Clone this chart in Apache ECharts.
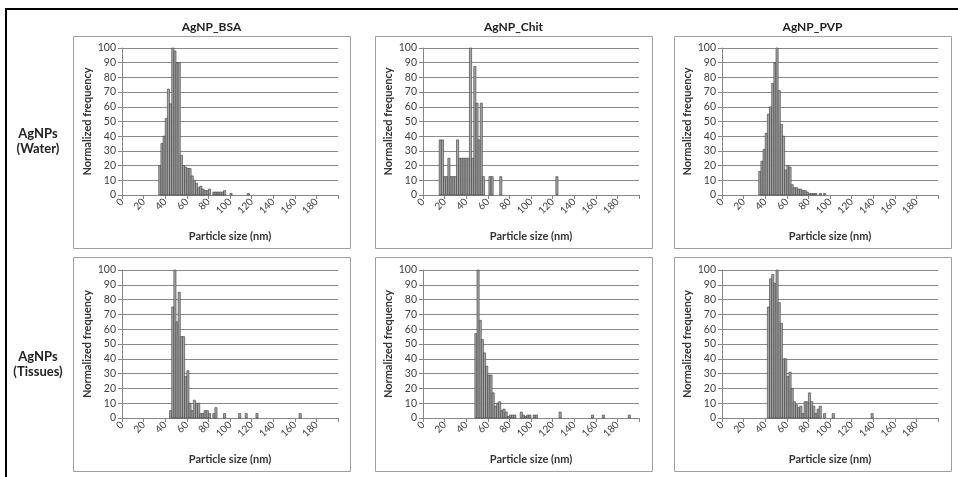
<!DOCTYPE html>
<html>
<head>
<meta charset="utf-8">
<script src="https://cdn.jsdelivr.net/npm/echarts@6/dist/echarts.min.js"></script>
<style>
  html, body { margin: 0; padding: 0; background: #fff; }
  #chart { width: 958px; height: 477px; }
</style>
</head>
<body>
<div id="chart"></div>
<script>
// === data: bin start (nm, 2 nm bins) and normalized frequency ===
const colTitles = ['AgNP_BSA', 'AgNP_Chit', 'AgNP_PVP']
const rowTitles = [['AgNPs', '(Water)'], ['AgNPs', '(Tissues)']]
const xTicks = [0, 20, 40, 60, 80, 100, 120, 140, 160, 180]

const bsaWaterSize = [34, 36, 38, 40, 42, 44, 46, 48, 50, 52, 54, 56, 58, 60, 62, 64, 66, 68, 70, 72, 74, 76, 78, 80, 84, 86, 88, 90, 92, 94, 100, 116]
const bsaWaterFreq = [20, 35, 40, 52, 72, 62, 100, 98, 90, 90, 27, 20, 19, 18, 18, 13, 10, 8, 5, 6, 4, 3, 3, 4, 2, 2, 2, 2, 2, 3, 1, 1]

const chitWaterSize = [15, 17, 19, 21, 23, 25, 27, 29, 31, 33, 35, 37, 39, 41, 43, 45, 47, 49, 51, 53, 55, 61, 63, 71, 123]
const chitWaterFreq = [37.5, 37.5, 12.5, 12.5, 25, 12.5, 12.5, 12.5, 37.5, 25, 25, 25, 25, 25, 100, 25, 87.5, 62.5, 37.5, 62.5, 12.5, 12.5, 12.5, 12.5, 12.5]

const pvpWaterSize = [34, 36, 38, 40, 42, 44, 46, 48, 50, 52, 54, 56, 58, 60, 62, 64, 66, 68, 70, 72, 74, 76, 78, 80, 82, 84, 86, 90, 94]
const pvpWaterFreq = [16, 23, 31, 42, 55, 60, 76, 90, 100, 71, 48, 40, 17, 20, 19, 7, 5, 5, 4, 4, 3, 3, 2, 1, 1, 1, 1, 1, 1]

const bsaTissueSize = [44, 46, 48, 50, 52, 54, 56, 58, 60, 62, 64, 66, 68, 70, 72, 74, 76, 78, 80, 84, 86, 94, 108, 114, 124, 164]
const bsaTissueFreq = [5, 75, 100, 65, 85, 55, 55, 28, 32, 10, 5, 12, 10, 10, 3, 3, 5, 5, 3, 3, 7, 3, 3, 3, 3, 3]

const chitTissueSize = [48, 50, 52, 54, 56, 58, 60, 62, 64, 66, 68, 70, 72, 74, 76, 78, 80, 82, 84, 90, 92, 94, 96, 98, 102, 104, 126, 156, 166, 190]
const chitTissueFreq = [57, 100, 66, 53, 44, 35, 29, 29, 17, 8, 10, 11, 5, 6, 4, 1, 2, 2, 2, 4, 2, 1, 2, 2, 2, 2, 4, 2, 2, 2]

const pvpTissueSize = [42, 44, 46, 48, 50, 52, 54, 56, 58, 60, 62, 64, 66, 68, 70, 72, 74, 76, 78, 80, 82, 84, 86, 88, 90, 94, 102, 138]
const pvpTissueFreq = [75, 94, 97, 91, 100, 78, 64, 40, 40, 28, 31, 20, 11, 9, 7, 8, 3, 11, 11, 17, 11, 8, 3, 6, 8, 3, 3, 3]

const binWidth = 2

// panels in order: row 0 (water), row 1 (tissues)
const panelData = [
  [bsaWaterSize, bsaWaterFreq], [chitWaterSize, chitWaterFreq], [pvpWaterSize, pvpWaterFreq],
  [bsaTissueSize, bsaTissueFreq], [chitTissueSize, chitTissueFreq], [pvpTissueSize, pvpTissueFreq]
]

// === layout (px) ===
const plotLeft = [122, 423, 722]
const plotW = 216
const plotTop = [48, 270]
const plotH = [147, 148]
const boxLeft = [73, 375, 674]
const boxW = 277
const boxTop = [36, 257]
const boxH = [212, 214]

const FONT = 'Lato'
const axisGray = '#868686'
const textColor = '#404040'

const myChart = echarts.init(document.getElementById('chart'), null, { renderer: 'canvas' })

const grids = [], xAxes = [], yAxes = [], series = []
panelData.forEach((pd, i) => {
  const r = Math.floor(i / 3), c = i % 3
  grids.push({ left: plotLeft[c], top: plotTop[r], width: plotW, height: plotH[r], containLabel: false })
  xAxes.push({
    type: 'value', gridIndex: i, min: 0, max: 200, interval: 20,
    name: 'Particle size (nm)', nameLocation: 'middle', nameGap: 36,
    nameTextStyle: { fontFamily: FONT, fontSize: 11, fontWeight: 'bold', color: '#333' },
    axisLine: { show: true, onZero: false, lineStyle: { color: axisGray, width: 1 } },
    axisTick: { show: true, length: 4, lineStyle: { color: axisGray } },
    splitLine: { show: false },
    axisLabel: {
      rotate: 45, fontFamily: FONT, fontSize: 10, color: textColor, margin: 5,
      formatter: v => (xTicks.indexOf(v) >= 0 ? String(v) : '')
    }
  })
  yAxes.push({
    type: 'value', gridIndex: i, min: 0, max: 100, interval: 10,
    name: 'Normalized frequency', nameLocation: 'middle', nameGap: 29, nameRotate: 90,
    nameTextStyle: { fontFamily: FONT, fontSize: 11, fontWeight: 'bold', color: '#333' },
    axisLine: { show: true, lineStyle: { color: axisGray, width: 1 } },
    axisTick: { show: true, length: 4, lineStyle: { color: axisGray } },
    splitLine: { show: true, lineStyle: { color: '#8a8a8a', width: 1 } },
    axisLabel: { fontFamily: FONT, fontSize: 10.5, color: textColor, margin: 6 }
  })
  series.push({
    type: 'custom', xAxisIndex: i, yAxisIndex: i,
    data: pd[0].map((s, k) => [s, pd[1][k]]),
    encode: { x: 0, y: 1 },
    renderItem: (params, api) => {
      const x0 = api.value(0), v = api.value(1)
      const p0 = api.coord([x0, v])
      const p1 = api.coord([x0 + binWidth, 0])
      return {
        type: 'rect',
        shape: { x: p0[0], y: p0[1], width: p1[0] - p0[0], height: p1[1] - p0[1] },
        style: { fill: '#a6a6a6', stroke: '#3a3a3a', lineWidth: 0.6 }
      }
    }
  })
})

// frames and labels
const graphics = [
  { type: 'rect', shape: { x: 6, y: 9, width: 960, height: 480 }, style: { fill: 'none', stroke: '#000', lineWidth: 2 }, z: 10 }
]
for (let r = 0; r < 2; r++) {
  for (let c = 0; c < 3; c++) {
    graphics.push({ type: 'rect', shape: { x: boxLeft[c] + 0.5, y: boxTop[r] + 0.5, width: boxW, height: boxH[r] }, style: { fill: 'none', stroke: '#a0a0a0', lineWidth: 1 } })
  }
}
colTitles.forEach((t, c) => {
  graphics.push({ type: 'text', x: boxLeft[c] + boxW / 2, y: 27, style: { text: t, fontFamily: FONT, fontSize: 12, fontWeight: 'bold', fill: '#222', align: 'center', verticalAlign: 'middle' } })
})
rowTitles.forEach((lines, r) => {
  const cy = r === 0 ? 141 : 364
  graphics.push({ type: 'text', x: 38, y: cy, style: { text: lines.join('\n'), lineHeight: 15, fontFamily: FONT, fontSize: 13, fontWeight: 'bold', fill: '#222', align: 'center', verticalAlign: 'middle' } })
})

myChart.setOption({
  animation: false,
  grid: grids,
  xAxis: xAxes,
  yAxis: yAxes,
  series: series,
  graphic: graphics
})
</script>
</body>
</html>
